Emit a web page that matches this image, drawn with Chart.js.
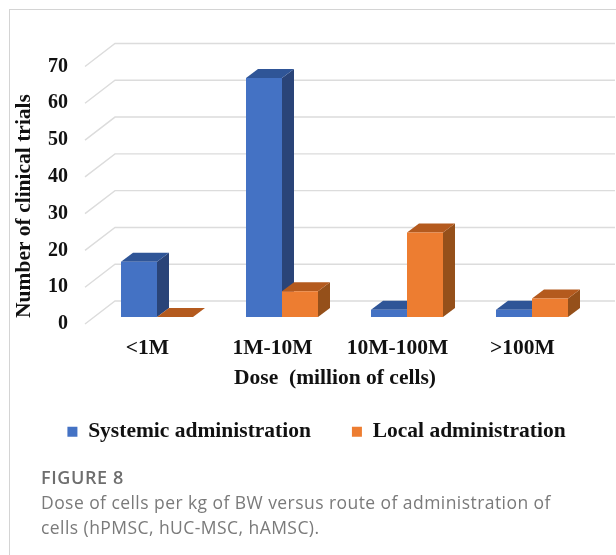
<!DOCTYPE html>
<html>
<head>
<meta charset="utf-8">
<script src="https://cdn.jsdelivr.net/npm/chart.js@4"></script>
<style>
  html, body { margin: 0; padding: 0; background: #fff; overflow: hidden; }
  #marco { position: absolute; left: 9px; top: 9px; width: 607px; height: 546px; border-left: 1px solid #d4d4d4; border-top: 1px solid #d4d4d4; box-sizing: border-box; }
  #grafico { position: absolute; left: 0; top: 0; }
  .pie { position: absolute; left: 41px; font-family: "Open Sans", sans-serif; color: #7a7a7a; white-space: nowrap; }
  #figura { top: 465px; font-size: 18px; letter-spacing: 0.6px; font-weight: 600; color: #6e6e6e; }
  .texto { font-size: 17.5px; letter-spacing: 0.44px; }
</style>
</head>
<body>
<div id="marco"></div>
<canvas id="grafico" width="616" height="555"></canvas>
<div class="pie" id="figura">FIGURE 8</div>
<div class="pie texto" style="top:490px">Dose of cells per kg of BW versus route of administration of</div>
<div class="pie texto" style="top:515px">cells (hPMSC, hUC-MSC, hAMSC).</div>
<script>
const categorias = ['<1M', '1M-10M', '10M-100M', '>100M'];
const sistemica = [15, 65, 2, 2];
const local = [0, 7, 23, 5];
const marcasY = [0, 10, 20, 30, 40, 50, 60, 70];

const FUENTE = '"Liberation Serif", serif';

// falso 3D: la pared del fondo y las caras de las barras se sacan de las escalas
const pared = { dx: 30, dy: 23 };
const barra = { dx: 12, dy: 9, despX: 9.5, despY: -7 };
const colores3d = [
  { arriba: '#2f5597', lado: '#2a4478' },
  { arriba: '#b45a1e', lado: '#95501a' }
];

const efecto3d = {
  id: 'efecto3d',
  afterLayout(chart) {
    // la leyenda no queda centrada en el original
    chart.legend.left += 24;
    chart.legend.right += 24;
    chart.legend.top -= 11;
    chart.legend.bottom -= 11;
  },
  beforeDatasetsDraw(chart) {
    const { ctx, chartArea, scales } = chart;
    ctx.save();
    ctx.strokeStyle = '#dcdcdc';
    ctx.lineWidth = 1.4;
    marcasY.forEach(v => {
      const y = scales.y.getPixelForValue(v);
      ctx.beginPath();
      ctx.moveTo(chartArea.left, y);
      ctx.lineTo(chartArea.left + pared.dx, y - pared.dy);
      ctx.lineTo(chartArea.right + pared.dx, y - pared.dy);
      ctx.stroke();
    });
    // caras de arriba y de costado, primero azul y luego naranja
    ctx.translate(barra.despX, barra.despY);
    chart.data.datasets.forEach((ds, i) => {
      const c = colores3d[i];
      chart.getDatasetMeta(i).data.forEach(el => {
        const izq = el.x - el.width / 2;
        const der = el.x + el.width / 2;
        ctx.fillStyle = c.lado;
        ctx.beginPath();
        ctx.moveTo(der, el.y);
        ctx.lineTo(der + barra.dx, el.y - barra.dy);
        ctx.lineTo(der + barra.dx, el.base - barra.dy);
        ctx.lineTo(der, el.base);
        ctx.closePath();
        ctx.fill();
        ctx.fillStyle = c.arriba;
        ctx.beginPath();
        ctx.moveTo(izq, el.y);
        ctx.lineTo(izq + barra.dx, el.y - barra.dy);
        ctx.lineTo(der + barra.dx, el.y - barra.dy);
        ctx.lineTo(der, el.y);
        ctx.closePath();
        ctx.fill();
      });
    });
    ctx.restore();
  },
  beforeDatasetDraw(chart) {
    chart.ctx.save();
    chart.ctx.translate(barra.despX, barra.despY);
  },
  afterDatasetDraw(chart) {
    chart.ctx.restore();
  }
};

new Chart(document.getElementById('grafico'), {
  type: 'bar',
  plugins: [efecto3d],
  data: {
    labels: categorias,
    datasets: [
      { label: 'Systemic administration', data: sistemica, backgroundColor: '#4472c4', clip: false },
      { label: 'Local administration', data: local, backgroundColor: '#ed7d31', clip: false }
    ]
  },
  options: {
    responsive: false,
    animation: false,
    categoryPercentage: 0.576,
    barPercentage: 1,
    layout: { padding: { left: 0, right: 31, top: 66.5, bottom: 91.5 } },
    plugins: {
      tooltip: { enabled: false },
      legend: {
        position: 'bottom',
        labels: {
          boxWidth: 10,
          boxHeight: 10,
          padding: 41,
          color: '#111',
          font: { family: FUENTE, size: 21.5, weight: 'bold' }
        }
      }
    },
    scales: {
      x: {
        grid: { display: false },
        border: { display: false },
        afterFit(scale) { scale.height = 67; },
        ticks: { color: '#111', padding: 4, maxRotation: 0, font: { family: FUENTE, size: 21.5, weight: 'bold' } },
        title: { display: true, text: 'Dose  (million of cells)', color: '#111', padding: 0, font: { family: FUENTE, size: 21.5, weight: 'bold' } }
      },
      y: {
        min: 0,
        max: 70,
        grid: { display: false },
        border: { display: false },
        afterFit(scale) { scale.width = 85; },
        ticks: { stepSize: 10, color: '#111', padding: 9, font: { family: FUENTE, size: 20, weight: 'bold' } },
        title: { display: true, text: 'Number of clinical trials    ', color: '#111', padding: { top: 12, bottom: 0 }, font: { family: FUENTE, size: 21.5, weight: 'bold' } }
      }
    }
  }
});
</script>
</body>
</html>
